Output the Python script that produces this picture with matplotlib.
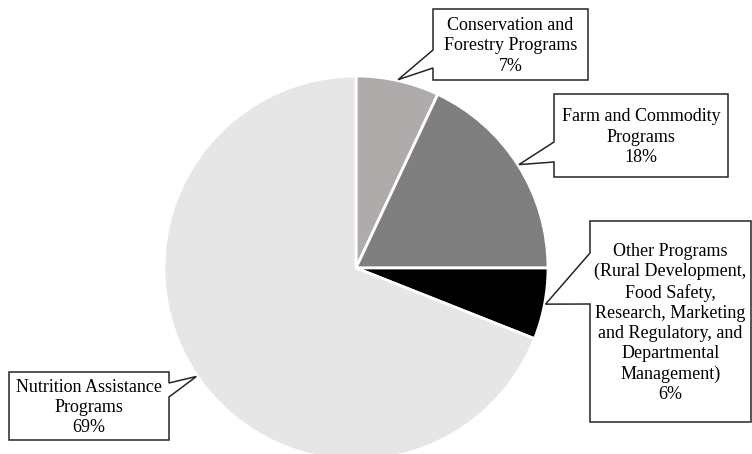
import numpy as np
import matplotlib
matplotlib.use("Agg")
import matplotlib.pyplot as plt
from matplotlib.patches import Polygon

categories = [
    "Conservation and\nForestry Programs",
    "Farm and Commodity\nPrograms",
    "Other Programs\n(Rural Development,\nFood Safety,\nResearch, Marketing\nand Regulatory, and\nDepartmental\nManagement)",
    "Nutrition Assistance\nPrograms",
]
shares = [7, 18, 6, 69]
colors = ["#aeabaa", "#7f7f7f", "#000000", "#e7e6e6"]

W, H = 752, 454

# callout boxes in pixel coordinates (top-left origin):
# (left, top, right, bottom, side of pointer, pointer start y, pointer end y)
boxes = [
    (433, 9, 588, 80, "left", 50, 68),
    (554, 94, 728, 177, "left", 142, 162),
    (590, 221, 751, 422, "left", 253, 304),
    (9, 372, 169, 440, "right", 383, 397),
]

fig = plt.figure(figsize=(W / 100, H / 100), dpi=100)
ax = fig.add_axes([0, 0, 1, 1])


def Y(y):
    return H - y


cx, cy, r = 356, Y(268), 192
wedges, _ = ax.pie(
    shares, colors=colors, startangle=90, counterclock=False,
    center=(cx, cy), radius=r,
    wedgeprops=dict(edgecolor="white", linewidth=2.0),
    frame=True,
)
ax.set_xlim(0, W)
ax.set_ylim(0, H)
ax.set_aspect("equal")
ax.axis("off")

for w, label, share, (x0, y0, x1, y1, side, pa, pb) in zip(wedges, categories, shares, boxes):
    mid = np.deg2rad((w.theta1 + w.theta2) / 2)
    tip = (cx + r * 1.005 * np.cos(mid), cy + r * 1.005 * np.sin(mid))
    if side == "left":
        pts = [(x0, Y(y0)), (x1, Y(y0)), (x1, Y(y1)), (x0, Y(y1)),
               (x0, Y(pb)), tip, (x0, Y(pa))]
    else:
        pts = [(x0, Y(y0)), (x1, Y(y0)), (x1, Y(pa)), tip,
               (x1, Y(pb)), (x1, Y(y1)), (x0, Y(y1))]
    ax.add_patch(Polygon(pts, closed=True, facecolor="white",
                         edgecolor="#262626", linewidth=1.1, zorder=3,
                         clip_on=False))
    ax.text((x0 + x1) / 2, Y((y0 + y1) / 2 + 1.5), f"{label}\n{share}%",
            ha="center", va="center", fontsize=13,
            family="Liberation Serif", linespacing=1.25, zorder=4)

fig.savefig("out.png", dpi=100, facecolor="white")
